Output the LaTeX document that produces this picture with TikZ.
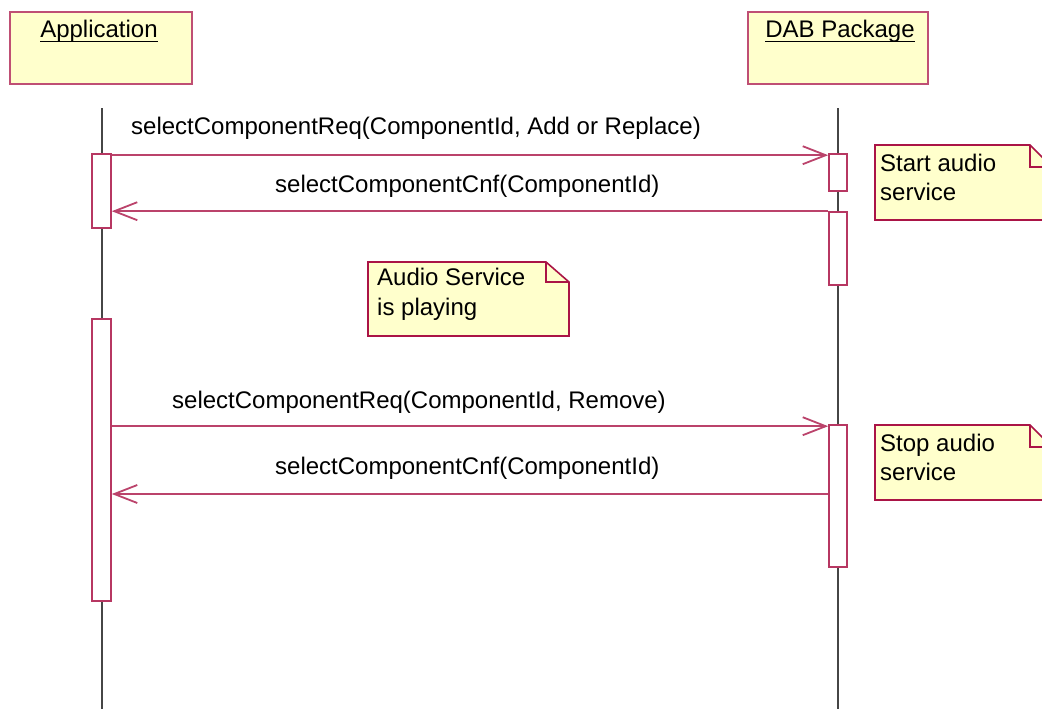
\documentclass[tikz,border=0pt]{standalone}
\usepackage{fontspec}
\setmainfont{Liberation Sans}
\usetikzlibrary{arrows.meta}
\definecolor{umlred}{RGB}{170,20,70}
\definecolor{umlfill}{RGB}{255,255,204}
\definecolor{lifegray}{RGB}{70,70,70}
\tikzset{
  txt/.style={font=\fontsize{24}{29}\selectfont, inner sep=0pt, anchor=base west},
  uline/.style={draw=black, line width=1.8pt},
  objbox/.style={draw=umlred!75, fill=umlfill, line width=1.6pt},
  lifeline/.style={draw=lifegray, line width=1.8pt},
  actbox/.style={draw=umlred!85, fill=white, line width=1.6pt, inner sep=0pt, minimum width=19pt},
  msg/.style={draw=umlred!80, line width=1.6pt, -{Straight Barb[length=23pt,width=18pt,line width=1.8pt]}},
  notebox/.style={draw=umlred, fill=umlfill, line width=1.6pt, line join=miter},
}
\begin{document}
\begin{tikzpicture}[x=1pt,y=-1pt]
\useasboundingbox (0,0) rectangle (1042,709);
\clip (0,0) rectangle (1042,709);

% object headers
\draw[objbox] (10,12) rectangle (192,84);
\node[txt, anchor=base] (appname) at (99,38) {Application};
\draw[uline] ([yshift=-3.5pt]appname.base west) -- ([yshift=-3.5pt]appname.base east);
\draw[objbox] (748,12) rectangle (928,84);
\node[txt, anchor=base] (dabname) at (840,38) {DAB Package};
\draw[uline] ([yshift=-3.5pt]dabname.base west) -- ([yshift=-3.5pt]dabname.base east);

% lifelines
\coordinate (appTop) at (102,108);
\coordinate (appBot) at (102,709);
\coordinate (dabTop) at (838,108);
\coordinate (dabBot) at (838,709);
\draw[lifeline] (appTop) -- (appBot);
\draw[lifeline] (dabTop) -- (dabBot);

% activation bars
\node[actbox, minimum height=74pt] (aA1) at (101.5,191) {};
\node[actbox, minimum height=282pt] (aA2) at (101.5,460) {};
\node[actbox, minimum width=18pt, minimum height=37pt] (aD1) at (838,172.5) {};
\node[actbox, minimum width=18pt, minimum height=73pt] (aD2) at (838,248.5) {};
\node[actbox, minimum width=18pt, minimum height=142pt] (aD3) at (838,496) {};

% messages
\coordinate (m1s) at ([yshift=-2pt]aA1.north east);
\draw[msg] (m1s) -- (aD1.west |- m1s);
\node[txt] (l1) at (131,135) {selectComponentReq(ComponentId, Add or Replace)};

\draw[msg] (aD2.north west) -- (aA1.east |- aD2.north west);
\node[txt] (l2) at (275,192) {selectComponentCnf(ComponentId)};

\coordinate (m3e) at ([yshift=-2pt]aD3.north west);
\draw[msg] (aA2.east |- m3e) -- (m3e);
\node[txt] (l3) at (172,408) {selectComponentReq(ComponentId, Remove)};

\coordinate (m4s) at (aD3.west |- 0,494);
\draw[msg] (m4s) -- (aA2.east |- m4s);
\node[txt] (l4) at (275,474) {selectComponentCnf(ComponentId)};

% notes
\draw[notebox] (875,145) -- (1030,145) -- (1052,167) -- (1052,220) -- (875,220) -- cycle;
\draw[notebox, fill=none] (1030,145) -- (1030,167) -- (1052,167);
\node[txt] (n1a) at (880,171) {Start audio};
\node[txt] (n1b) at (880,200) {service};

\draw[notebox] (368,262) -- (546,262) -- (569,282) -- (569,336) -- (368,336) -- cycle;
\draw[notebox, fill=none] (546,262) -- (546,282) -- (569,282);
\node[txt] (n2a) at (377,285) {Audio Service};
\node[txt] (n2b) at (377,315) {is playing};

\draw[notebox] (875,425) -- (1030,425) -- (1052,447) -- (1052,500) -- (875,500) -- cycle;
\draw[notebox, fill=none] (1030,425) -- (1030,447) -- (1052,447);
\node[txt] (n3a) at (880,451) {Stop audio};
\node[txt] (n3b) at (880,480) {service};
\end{tikzpicture}
\end{document}
